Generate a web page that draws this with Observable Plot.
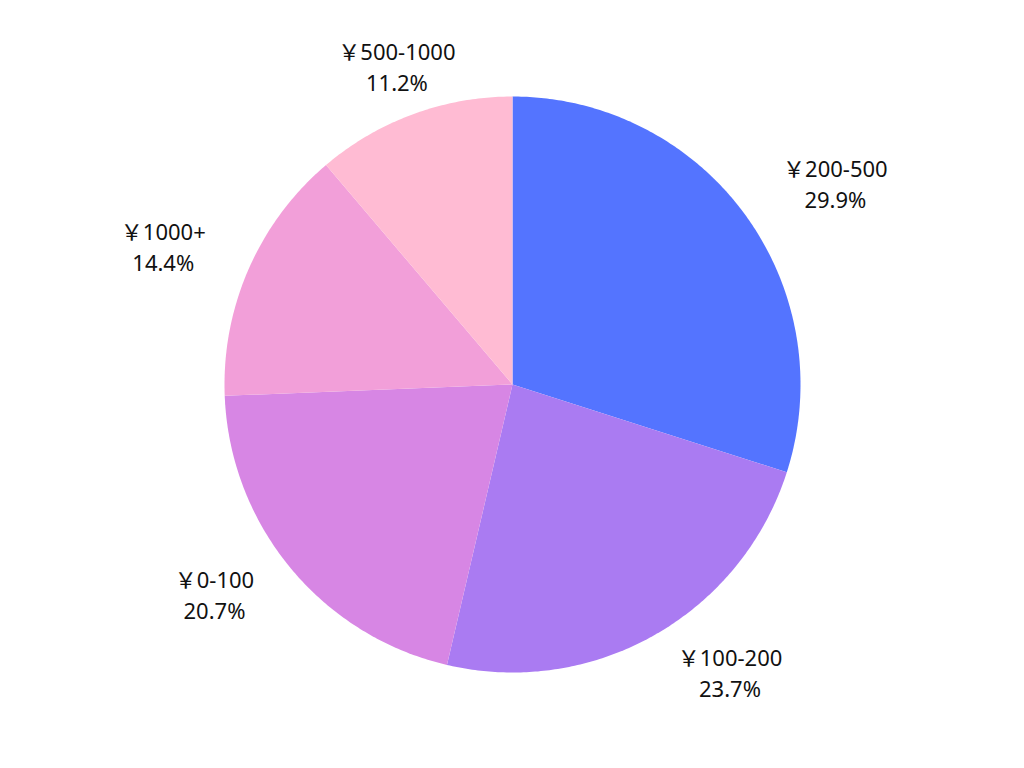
<!DOCTYPE html>
<html>
<head>
<meta charset="utf-8">
<script src="https://cdn.jsdelivr.net/npm/d3@7"></script>
<script src="https://cdn.jsdelivr.net/npm/@observablehq/plot@0.6"></script>
<style>
  html, body { margin: 0; padding: 0; background: #fff; }
  #chart { width: 1024px; height: 768px; }
</style>
</head>
<body>
<div id="chart"></div>
<script>
// Data (clockwise from 12 o'clock)
const categories = ["￥200-500", "￥100-200", "￥0-100", "￥1000+", "￥500-1000"];
const shares = [29.9, 23.7, 20.7, 14.4, 11.2];
const colors = ["#5474FF", "#AA7BF2", "#D786E4", "#F29FD9", "#FFBBD3"];

const W = 1024, H = 768, R = 288;
const labelR = 335 / R;
const fontFamily = "'Noto Sans', 'Noto Sans CJK SC', sans-serif";
const fontSize = 22;

const total = d3.sum(shares);
const ctx = document.createElement("canvas").getContext("2d");
ctx.font = `${fontSize}px ${fontFamily}`;

let acc = 0;
const slices = categories.map((cat, i) => {
  const a0 = acc / total * 2 * Math.PI;
  acc += shares[i];
  const a1 = acc / total * 2 * Math.PI;
  const n = Math.max(2, Math.ceil((a1 - a0) / 0.01));
  const ring = [[0, 0]];
  for (let k = 0; k <= n; k++) {
    const a = a0 + (a1 - a0) * k / n;
    ring.push([Math.sin(a), -Math.cos(a)]);
  }
  ring.push([0, 0]);
  const mid = (a0 + a1) / 2;
  const pct = shares[i].toFixed(1) + "%";
  const w = Math.max(ctx.measureText(cat).width, ctx.measureText(pct).width) / R;
  const s = Math.sin(mid);
  let lx = s * labelR;
  if (s > 0.4) lx += w / 2;
  else if (s < -0.4) lx -= w / 2;
  return {
    type: "Feature",
    properties: {cat, color: colors[i]},
    geometry: {type: "Polygon", coordinates: [ring]},
    lx, ly: -Math.cos(mid) * labelR,
    label: cat + "\n" + pct
  };
});

const domain = {
  type: "Polygon",
  coordinates: [[[-W / 2 / R, -H / 2 / R], [W / 2 / R, -H / 2 / R], [W / 2 / R, H / 2 / R], [-W / 2 / R, H / 2 / R], [-W / 2 / R, -H / 2 / R]]]
};

const chart = Plot.plot({
  width: W,
  height: H,
  margin: 0,
  style: {fontFamily, background: "#fff"},
  projection: {type: "identity", domain, inset: 0},
  marks: [
    Plot.geo(slices, {fill: d => d.properties.color, stroke: "none"}),
    Plot.text(slices, {
      x: "lx", y: "ly", text: "label", dy: -4,
      fontSize, lineHeight: 1.41, fill: "#111", textAnchor: "middle"
    })
  ]
});
document.getElementById("chart").appendChild(chart);
</script>
</body>
</html>
